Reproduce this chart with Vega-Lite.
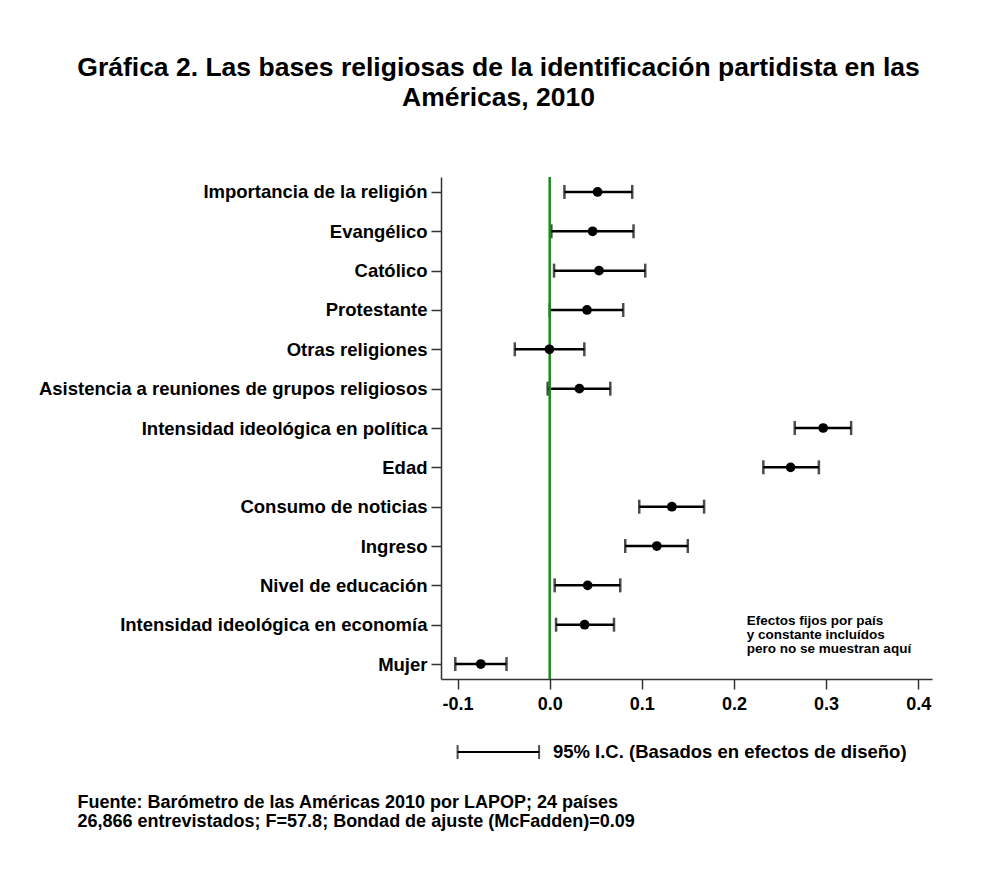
{
  "$schema": "https://vega.github.io/schema/vega-lite/v6.json",
  "width": 491,
  "height": 502,
  "autosize": {"type": "none"},
  "padding": {"left": 441, "top": 177, "right": 59, "bottom": 198},
  "background": "white",
  "title": {
    "text": ["Gráfica 2. Las bases religiosas de la identificación partidista en las", "Américas, 2010"],
    "font": "Liberation Sans",
    "fontSize": 26.5,
    "fontWeight": "bold",
    "color": "black",
    "lineHeight": 30,
    "anchor": "middle",
    "frame": "group",
    "dx": -188,
    "offset": 64
  },
  "data": {
    "values": [
      {"variable": "Importancia de la religión", "coef": 0.052, "low": 0.016, "high": 0.0896},
      {"variable": "Evangélico", "coef": 0.0466, "low": 0.0018, "high": 0.091},
      {"variable": "Católico", "coef": 0.0535, "low": 0.0047, "high": 0.1037},
      {"variable": "Protestante", "coef": 0.0405, "low": 0.0, "high": 0.0798},
      {"variable": "Otras religiones", "coef": -0.0003, "low": -0.0379, "high": 0.0376},
      {"variable": "Asistencia a reuniones de grupos religiosos", "coef": 0.0322, "low": -0.0022, "high": 0.0658},
      {"variable": "Intensidad ideológica en política", "coef": 0.2969, "low": 0.266, "high": 0.3272},
      {"variable": "Edad", "coef": 0.2615, "low": 0.2319, "high": 0.2922},
      {"variable": "Consumo de noticias", "coef": 0.1326, "low": 0.0972, "high": 0.1676},
      {"variable": "Ingreso", "coef": 0.1163, "low": 0.082, "high": 0.1499},
      {"variable": "Nivel de educación", "coef": 0.0412, "low": 0.0054, "high": 0.0766},
      {"variable": "Intensidad ideológica en economía", "coef": 0.0379, "low": 0.0069, "high": 0.0698},
      {"variable": "Mujer", "coef": -0.0748, "low": -0.1025, "high": -0.0469}
    ]
  },
  "layer": [
    {
      "mark": {"type": "rule", "color": "black", "strokeWidth": 2.5},
      "encoding": {
        "y": {
          "field": "variable",
          "type": "nominal",
          "sort": null,
          "scale": {"type": "point", "padding": 0.38},
          "axis": {
            "title": null,
            "labelFont": "Liberation Sans",
            "labelFontSize": 18.5,
            "labelFontWeight": "bold",
            "labelColor": "black",
            "labelPadding": 4,
            "labelLimit": 600,
            "tickSize": 10,
            "tickColor": "#333333",
            "tickWidth": 1.5,
            "domainColor": "#333333",
            "domainWidth": 1.5,
            "grid": false
          }
        },
        "x": {
          "field": "low",
          "type": "quantitative",
          "scale": {"domain": [-0.118, 0.415], "nice": false, "zero": false},
          "axis": {
            "values": [-0.1, 0, 0.1, 0.2, 0.3, 0.4],
            "labelExpr": "datum.value < 0 ? '-' + format(-datum.value, '.1f') : format(datum.value, '.1f')",
            "labelFont": "Liberation Sans",
            "labelFontSize": 18,
            "labelFontWeight": "bold",
            "labelColor": "black",
            "labelPadding": 6,
            "tickSize": 10,
            "tickColor": "#333333",
            "tickWidth": 1.5,
            "domainColor": "#333333",
            "domainWidth": 1.5,
            "grid": false,
            "title": ["Fuente: Barómetro de las Américas 2010 por LAPOP; 24 países", "26,866 entrevistados; F=57.8; Bondad de ajuste (McFadden)=0.09"],
            "titleFont": "Liberation Sans",
            "titleFontSize": 18,
            "titleFontWeight": "bold",
            "titleColor": "black",
            "titleLineHeight": 19,
            "titleAnchor": "start",
            "titleAlign": "left",
            "titleBaseline": "alphabetic",
            "titleX": -364,
            "titleY": 128
          }
        },
        "x2": {"field": "high"}
      }
    },
    {
      "mark": {"type": "tick", "color": "black", "thickness": 2.5, "size": 14},
      "encoding": {
        "y": {"field": "variable", "type": "nominal", "sort": null},
        "x": {"field": "low", "type": "quantitative"}
      }
    },
    {
      "mark": {"type": "tick", "color": "black", "thickness": 2.5, "size": 14},
      "encoding": {
        "y": {"field": "variable", "type": "nominal", "sort": null},
        "x": {"field": "high", "type": "quantitative"}
      }
    },
    {
      "data": {"values": [{"ref": 0}]},
      "mark": {"type": "rule", "color": "#1A8C1A", "strokeWidth": 2.5},
      "encoding": {"x": {"field": "ref", "type": "quantitative"}}
    },
    {
      "mark": {"type": "circle", "color": "black", "size": 95, "opacity": 1},
      "encoding": {
        "y": {"field": "variable", "type": "nominal", "sort": null},
        "x": {"field": "coef", "type": "quantitative"}
      }
    },
    {
      "data": {"values": [{"note": "Efectos fijos por país\ny constante incluídos\npero no se muestran aquí"}]},
      "mark": {"type": "text", "align": "left", "baseline": "alphabetic", "lineBreak": "\n", "lineHeight": 14, "font": "Liberation Sans", "fontSize": 13.5, "fontWeight": "bold", "color": "black"},
      "encoding": {
        "x": {"datum": 0.214},
        "y": {"datum": "Intensidad ideológica en economía"},
        "text": {"field": "note"}
      }
    },
    {
      "data": {"values": [{"lo": -0.1, "hi": -0.0115, "label": "95%  I.C. (Basados en efectos de diseño)"}]},
      "layer": [
        {
          "mark": {"type": "rule", "color": "black", "strokeWidth": 2, "yOffset": 88},
          "encoding": {
            "x": {"field": "lo", "type": "quantitative"},
            "x2": {"field": "hi"},
            "y": {"datum": "Mujer"}
          }
        },
        {
          "mark": {"type": "tick", "color": "black", "thickness": 2, "size": 14, "yOffset": 88},
          "encoding": {
            "x": {"field": "lo", "type": "quantitative"},
            "y": {"datum": "Mujer"}
          }
        },
        {
          "mark": {"type": "tick", "color": "black", "thickness": 2, "size": 14, "yOffset": 88},
          "encoding": {
            "x": {"field": "hi", "type": "quantitative"},
            "y": {"datum": "Mujer"}
          }
        },
        {
          "mark": {"type": "text", "align": "left", "baseline": "middle", "font": "Liberation Sans", "fontSize": 18.5, "fontWeight": "bold", "color": "black", "yOffset": 88},
          "encoding": {
            "x": {"datum": 0.0035},
            "y": {"datum": "Mujer"},
            "text": {"field": "label"}
          }
        }
      ]
    }
  ],
  "config": {
    "view": {"stroke": null}
  }
}
